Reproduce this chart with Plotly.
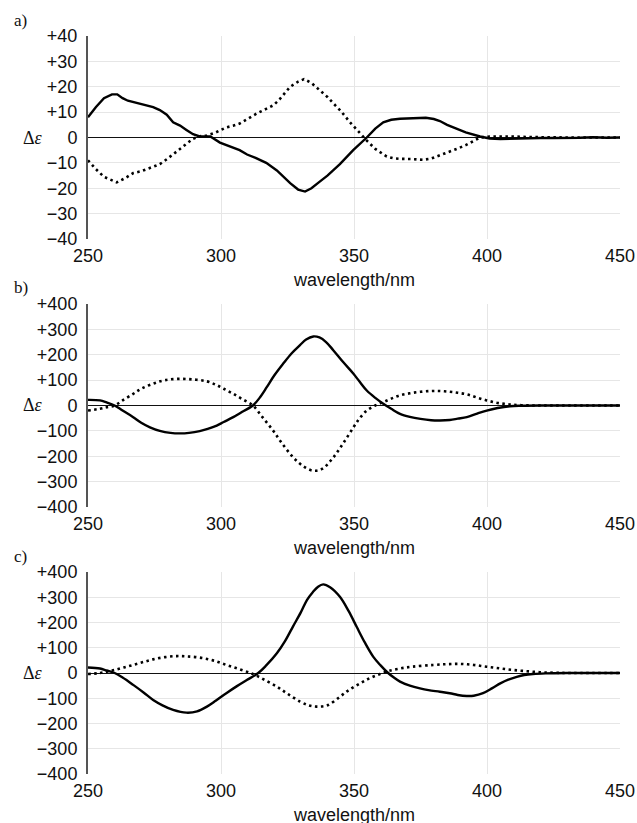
import plotly.graph_objects as go

# ---------------- data ----------------
a_solid_x = [250, 253, 256, 259, 261, 263, 265, 268, 271, 274.5, 277, 279.6, 282, 284.6, 287, 289.5, 292, 296,
             299.6, 302, 304.5, 307, 309.8, 313, 317, 321, 326, 329, 331.6, 334, 337, 340, 344.7, 349.7, 354.8,
             358, 361, 364, 367.3, 372, 377, 380, 382.3, 385, 388.6, 392, 397.4, 401, 405, 410, 415, 420, 425,
             430, 435, 440, 445, 450]
a_solid_y = [8, 12, 15.5, 17, 17, 15.5, 14.5, 13.8, 13, 12, 10.8, 9, 6, 4.7, 3, 1.3, 0.4, 0.4,
             -2, -3, -3.8, -5, -6.7, -8, -10, -13, -18, -20.5, -21.3, -20, -17.5, -15, -10.5, -5, 0,
             3.5, 6, 7, 7.4, 7.7, 7.8, 7.3, 6.5, 5, 3.4, 2, 0.4, -0.4, -0.6, -0.4, -0.3, -0.2, -0.2,
             -0.3, -0.1, 0.1, -0.1, 0]
a_dot_x = [250, 253, 256, 260.8, 264, 267, 270, 274.5, 277, 279.7, 282, 284.6, 287, 289.5, 292, 294.7, 298,
           302, 304.5, 307, 310, 313.5, 317, 319.7, 322, 326, 329, 331.2, 334, 337.2, 340, 342.3, 345, 348.5,
           351, 354.8, 358, 362.3, 365, 367.3, 372, 376, 379, 382.3, 385, 388.6, 392, 397.4, 401, 405, 410,
           415, 420, 430, 440, 450]
a_dot_y = [-9, -12.5, -15.5, -17.7, -16, -14, -13.3, -11.7, -10.5, -8.5, -6.5, -4.5, -2.5, -0.5, 0.5, 0.8, 2,
           4, 4.6, 5.5, 7.5, 9.5, 11.3, 12.7, 15, 20, 22, 23, 21.5, 18.6, 16, 13.4, 10.5, 6,
           3, -1.2, -4.5, -7.5, -8.2, -8.4, -8.5, -8.8, -8.3, -7.1, -6, -4.5, -3, 0, 0.4, 0.5, 0.4,
           0.2, 0.1, 0, 0, 0]

b_solid_x = [250, 254.5, 257, 260, 263, 267, 270, 273.3, 277, 281, 284.6, 288, 292, 295, 298.4, 301, 304.6,
             308, 312, 314.5, 317.2, 320, 323.4, 326.5, 329.7, 332, 334.7, 337, 339.5, 342.2, 346, 349.8, 352,
             354.8, 358, 361, 364, 367.3, 371, 375, 379, 382.3, 386, 389, 392.4, 396, 399.9, 404, 408.6, 413,
             420, 450]
b_solid_y = [22, 20, 12, 0, -20, -46, -68, -86, -100, -108, -110, -108, -101, -92, -79, -65, -46,
             -25, 0, 30, 72, 118, 165, 205, 238, 260, 272, 268, 250, 218, 170, 125, 95,
             59, 30, 7, -13, -33, -45, -53, -58, -59, -57, -52, -46, -33, -20, -10, -3, -1,
             0, 0]
b_dot_x = [250, 254.5, 257, 260, 263, 267, 270, 274.5, 279, 284.6, 290, 294.7, 298, 301, 304.6, 308, 312,
           315.5, 319.6, 323, 327.2, 331, 334.7, 338, 342.2, 346, 349.8, 352, 354.8, 358, 361, 364, 367.3,
           371, 375, 379, 382.3, 386, 389, 392.4, 396, 399.9, 404, 408.6, 413, 420, 450]
b_dot_y = [-20, -13, -7, 0, 20, 46, 66, 86, 100, 105, 102, 95, 82, 66, 46, 25, 0,
           -45, -99, -150, -205, -240, -257, -250, -205, -148, -86, -52, -20, 0, 13, 27, 40,
           48, 54, 57, 57, 54, 50, 44, 32, 20, 10, 4, 1, 0, 0]

c_solid_x = [250, 254.5, 257, 260, 263, 267, 271, 274.5, 278, 282, 287, 291, 294.7, 298, 302, 306, 309.7,
             314, 317, 321, 324, 327, 330, 332.3, 334.5, 336.5, 338.4, 341, 344.7, 348, 351, 354, 357.2, 360,
             362.3, 365, 367.3, 371, 374.8, 378, 382.3, 386, 389, 392.4, 395, 398.5, 402, 405, 408, 411.2,
             414, 417.3, 422, 430, 450]
c_solid_y = [22, 18, 10, 0, -18, -47, -78, -107, -128, -146, -157, -152, -133, -110, -80, -52, -28,
             0, 30, 78, 125, 183, 240, 289, 320, 342, 351, 340, 302, 245, 183, 122, 65, 30,
             5, -18, -34, -50, -61, -68, -74, -80, -87, -91, -90, -80, -60, -41, -26, -15,
             -8, -4, -1.5, 0, 0]
c_dot_x = [250, 254.5, 257, 260, 263.5, 267, 271, 274.5, 279, 283.4, 287, 292, 297, 302, 307, 312, 316,
           321, 325, 329.7, 333, 336, 340, 344.7, 348, 352.3, 356, 359.8, 363, 367.3, 372, 379.8, 385,
           389.9, 395, 399.9, 405, 409.8, 415, 419.9, 425, 432, 450]
c_dot_y = [-4, 0, 5, 12, 22, 32, 44, 54, 63, 67, 66, 61, 50, 32, 15, -4, -25,
           -54, -82, -113, -128, -133, -128, -94, -68, -41, -20, -4, 8, 18, 25, 32, 35,
           36, 32, 25, 18, 12, 7, 3, 1, 0, 0]

x_ticks = [250, 300, 350, 400, 450]
ya_ticks = [-40, -30, -20, -10, 0, 10, 20, 30, 40]
ya_text = ["\u221240", "\u221230", "\u221220", "\u221210", "0", "+10", "+20", "+30", "+40"]
ybc_ticks = [-400, -300, -200, -100, 0, 100, 200, 300, 400]
ybc_text = ["\u2212400", "\u2212300", "\u2212200", "\u2212100", "0", "+100", "+200", "+300", "+400"]
panel_labels = ["a)", "b)", "c)"]
x_title = "wavelength/nm"
y_title = "\u0394<i>\u03b5</i>"

# ---------------- figure ----------------
fig = go.Figure()
DOT = "2.5px,3.5px"
panels = [
    (a_solid_x, a_solid_y, a_dot_x, a_dot_y, "linear"),
    (b_solid_x, b_solid_y, b_dot_x, b_dot_y, "spline"),
    (c_solid_x, c_solid_y, c_dot_x, c_dot_y, "spline"),
]
for i, (sx, sy, dx, dy, shape) in enumerate(panels):
    suffix = "" if i == 0 else str(i + 1)
    fig.add_trace(go.Scatter(x=dx, y=dy, mode="lines", xaxis="x" + suffix, yaxis="y" + suffix,
                             line=dict(color="black", width=2.6, dash=DOT, shape=shape), showlegend=False))
    fig.add_trace(go.Scatter(x=sx, y=sy, mode="lines", xaxis="x" + suffix, yaxis="y" + suffix,
                             line=dict(color="black", width=2.4, shape=shape), showlegend=False))

domains = [[0.7249, 1.0], [0.3618, 0.6369], [0.0, 0.2737]]
font_sans = dict(family="Liberation Sans, Arial, sans-serif", size=18, color="#111")
layout = dict(
    width=637, height=823,
    margin=dict(l=88, r=17, t=36, b=49, autoexpand=False),
    paper_bgcolor="white", plot_bgcolor="white",
    font=font_sans,
)
annotations = []
for i in range(3):
    suffix = "" if i == 0 else str(i + 1)
    xa = "xaxis" + suffix
    ya = "yaxis" + suffix
    layout[xa] = dict(
        domain=[0, 1], anchor="y" + suffix, range=[250, 450], automargin=False,
        tickvals=x_ticks, ticktext=[str(v) for v in x_ticks],
        showgrid=True, gridcolor="#e6e6e6", gridwidth=1,
        zeroline=False, showline=False, ticks="", ticklabelstandoff=4,
        tickfont=font_sans,
    )
    layout[ya] = dict(
        domain=domains[i], anchor="x" + suffix, automargin=False,
        range=[-40, 40] if i == 0 else [-400, 400],
        tickvals=ya_ticks if i == 0 else ybc_ticks,
        ticktext=ya_text if i == 0 else ybc_text,
        showgrid=True, gridcolor="#e6e6e6", gridwidth=1,
        zeroline=True, zerolinecolor="#111", zerolinewidth=1.2,
        showline=True, linecolor="#555", linewidth=2, mirror=False,
        ticks="", ticklabelstandoff=5, tickfont=font_sans,
    )
    xd = "x" + suffix + " domain"
    yd = "y" + suffix + " domain"
    annotations.append(dict(text=x_title, xref=xd, yref=yd, x=0.5, y=0, yshift=-29,
                            xanchor="center", yanchor="top", showarrow=False, font=font_sans))
    annotations.append(dict(text=y_title, xref=xd, yref=yd, x=-0.103, y=0.5,
                            xanchor="center", yanchor="middle", showarrow=False,
                            font=dict(family="Liberation Serif, Times New Roman, serif", size=18, color="#111")))
    annotations.append(dict(text=panel_labels[i], xref="paper", yref=yd, x=-0.143, y=1, yshift=16,
                            xanchor="left", yanchor="middle", showarrow=False,
                            font=dict(family="Liberation Serif, Times New Roman, serif", size=17, color="#111")))
layout["annotations"] = annotations
fig.update_layout(**layout)
fig.write_html("out.html", config={"displayModeBar": False},
               post_script="document.body.style.margin='0';document.body.style.overflow='hidden';")
